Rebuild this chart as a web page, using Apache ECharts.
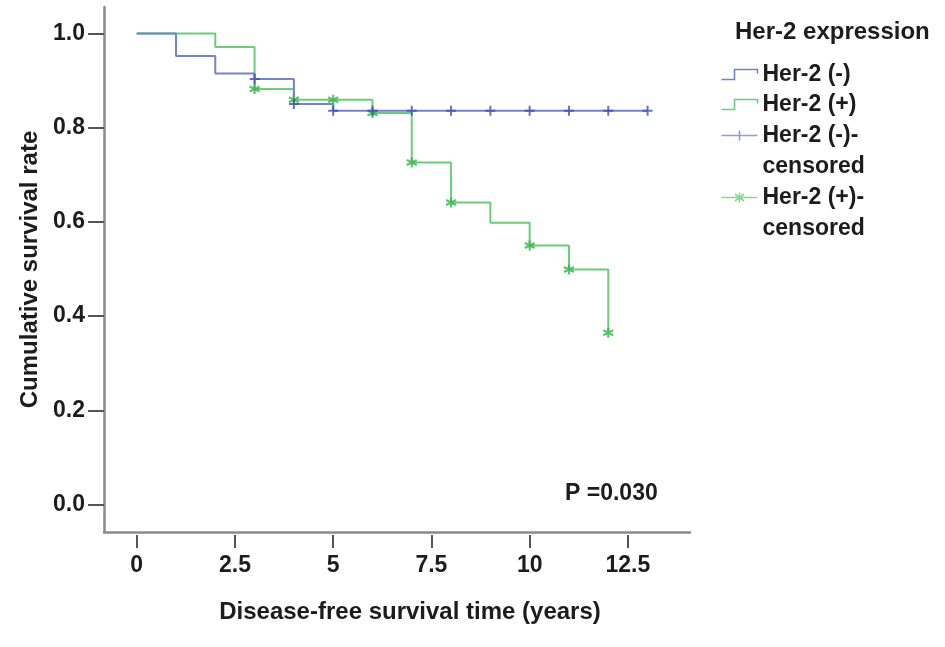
<!DOCTYPE html>
<html>
<head>
<meta charset="utf-8">
<script src="https://cdn.jsdelivr.net/npm/echarts@6/dist/echarts.min.js"></script>
<style>html,body{margin:0;padding:0;background:#fff}#c{width:945px;height:647px}</style>
</head>
<body>
<div id="c"></div>
<script>
const xTicks = [0, 2.5, 5, 7.5, 10, 12.5];
const yTicks = [0, 0.2, 0.4, 0.6, 0.8, 1.0];

const negTimes = [0, 1, 2, 3, 4, 5, 13];
const negSurv  = [1.0, 0.952, 0.915, 0.903, 0.850, 0.836, 0.836];
const posTimes = [0, 2, 3, 4, 6, 7, 8, 9, 10, 11, 12];
const posSurv  = [1.0, 0.971, 0.882, 0.859, 0.831, 0.726, 0.641, 0.598, 0.550, 0.499, 0.365];

const negCensorTimes = [3, 4, 5, 6, 7, 8, 9, 10, 11, 12, 13];
const negCensorSurv  = [0.903, 0.850, 0.836, 0.836, 0.836, 0.836, 0.836, 0.836, 0.836, 0.836, 0.836];
const posCensorTimes = [3, 4, 5, 6, 7, 8, 10, 11, 12];
const posCensorSurv  = [0.882, 0.859, 0.859, 0.831, 0.726, 0.641, 0.550, 0.499, 0.365];

const seriesNames = ['Her-2 (-)', 'Her-2 (+)', 'Her-2 (-)-censored', 'Her-2 (+)-censored'];

const negLine = '#7682c9', posLine = '#6bcd7b';
const negMark = '#3e4fb5', posMark = '#36b34b';
const FONT = "'Liberation Sans', Arial, sans-serif";
const TXT = '#1c1c1c';

const zip = (a, b) => a.map((v, i) => [v, b[i]]);

const stepIcon = 'path://M0,10L13,10L13,0L36,0L36,4';
const crossIcon = 'path://M0,5L36,5M18,0L18,10';
const starIcon = 'path://M0,5L36,5M18,0L18,10M13.5,1.5L22.5,8.5M22.5,1.5L13.5,8.5';
const crossSym = 'path://M0,5L10,5M5,0L5,10';
const starSym = 'path://M5,0L5,10M0.7,2.5L9.3,7.5M9.3,2.5L0.7,7.5';

function legendFor(name, icon, color, top, twoLine) {
  return {
    data: [name], icon: icon, left: 719, top: top, padding: 0,
    orient: 'vertical', itemWidth: 36, itemHeight: 10, selectedMode: false,
    itemStyle: {color: 'none', borderColor: color, borderWidth: 1.6},
    formatter: n => twoLine ? '\n' + n.replace('-censored', '-\ncensored') : n,
    textStyle: {fontFamily: FONT, fontSize: 23, fontWeight: 'bold', color: TXT, lineHeight: 31}
  };
}

const chart = echarts.init(document.getElementById('c'));
chart.setOption({
  animation: false,
  backgroundColor: '#fff',
  title: [
    {text: 'Her-2 expression', left: 735, top: 17, padding: 0,
     textStyle: {fontFamily: FONT, fontSize: 24, fontWeight: 'bold', color: TXT, lineHeight: 30}},
    {text: 'P =0.030', left: 565, top: 479, padding: 0,
     textStyle: {fontFamily: FONT, fontSize: 23, fontWeight: 'bold', color: TXT, lineHeight: 30}}
  ],
  legend: [
    legendFor(seriesNames[0], stepIcon, negLine, 59, false),
    legendFor(seriesNames[1], stepIcon, posLine, 89, false),
    legendFor(seriesNames[2], crossIcon, negLine, 89, true),
    legendFor(seriesNames[3], starIcon, posLine, 151, true)
  ],
  grid: {left: 104, top: 7, right: 255, bottom: 115, containLabel: false},
  xAxis: [
    {type: 'value', min: -0.832, max: 14.08, position: 'bottom',
     axisLine: {show: true, onZero: false, lineStyle: {color: '#8a8a8a', width: 2.5}},
     axisTick: {show: false}, axisLabel: {show: false}, splitLine: {show: false},
     name: 'Disease-free survival time (years)', nameLocation: 'middle', nameGap: 68,
     nameTextStyle: {fontFamily: FONT, fontSize: 24, fontWeight: 'bold', color: TXT, padding: [0, 0, 0, 26]}},
    {type: 'value', min: -0.832, max: 14.08, position: 'bottom', offset: 3,
     axisLine: {show: false, onZero: false},
     axisTick: {show: true, customValues: xTicks, length: 13, lineStyle: {color: '#555', width: 2}},
     axisLabel: {show: true, customValues: xTicks, margin: 19,
       fontFamily: FONT, fontSize: 23, fontWeight: 'bold', color: TXT},
     splitLine: {show: false}}
  ],
  yAxis: {
    type: 'value', min: -0.058, max: 1.056,
    axisLine: {show: true, onZero: false, lineStyle: {color: '#8a8a8a', width: 2.5}},
    axisTick: {show: true, customValues: yTicks, length: 16, lineStyle: {color: '#555', width: 2}},
    axisLabel: {show: true, customValues: yTicks, margin: 19, formatter: v => v.toFixed(1),
      fontFamily: FONT, fontSize: 23, fontWeight: 'bold', color: TXT},
    splitLine: {show: false},
    name: 'Cumulative survival rate', nameLocation: 'middle', nameGap: 55,
    nameTextStyle: {fontFamily: FONT, fontSize: 24, fontWeight: 'bold', color: TXT}
  },
  series: [
    {name: seriesNames[0], type: 'line', step: 'end', data: zip(negTimes, negSurv),
     showSymbol: false, lineStyle: {color: negLine, width: 2}, itemStyle: {color: negLine}, z: 3},
    {name: seriesNames[1], type: 'line', step: 'end', data: zip(posTimes, posSurv),
     showSymbol: false, lineStyle: {color: posLine, width: 2}, itemStyle: {color: posLine}, z: 2},
    {name: seriesNames[2], type: 'scatter', data: zip(negCensorTimes, negCensorSurv),
     symbol: crossSym, symbolSize: 10,
     itemStyle: {color: 'none', borderColor: negMark, borderWidth: 2}, z: 5},
    {name: seriesNames[3], type: 'scatter', data: zip(posCensorTimes, posCensorSurv),
     symbol: starSym, symbolSize: 10,
     itemStyle: {color: 'none', borderColor: posMark, borderWidth: 2.2}, z: 4}
  ]
});
</script>
</body>
</html>
